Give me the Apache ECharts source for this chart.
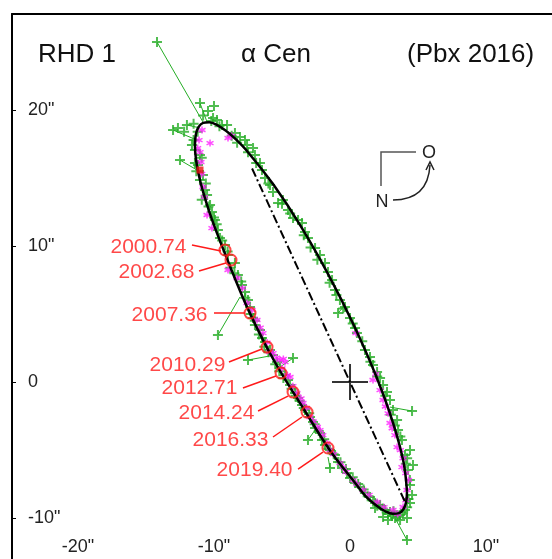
<!DOCTYPE html>
<html>
<head>
<meta charset="utf-8">
<title>RHD 1 alpha Cen</title>
<script src="https://cdn.jsdelivr.net/npm/echarts@6/dist/echarts.min.js"></script>
<style>
    html, body { margin: 0; padding: 0; background: #fff; }
    #orbit { width: 552px; height: 559px; }
</style>
</head>
<body>
<div id="orbit"></div>
<script>
// axes (arcsec)
var xTicks = [-20, -10, 0, 10];
var yTicks = [-10, 0, 10, 20];

// apparent orbit
var orbit = [
    [4.19, -8.04], [4.13, -8.80], [3.93, -9.35], [3.60, -9.64], [3.15, -9.69],
    [2.58, -9.50], [1.91, -9.06], [1.14, -8.39], [0.44, -7.50], [-1.43, -5.09],
    [-3.38, -2.02], [-5.55, 1.51], [-7.45, 5.25], [-9.00, 8.96], [-10.30, 12.38],
    [-11.13, 15.27], [-11.40, 17.45], [-11.33, 18.21], [-11.13, 18.76], [-10.80, 19.05],
    [-10.35, 19.10], [-9.79, 18.91], [-9.12, 18.47], [-8.35, 17.80], [-7.50, 16.90],
    [-5.62, 14.50], [-3.60, 11.43], [-1.59, 7.90], [0.29, 4.16], [1.91, 0.46],
    [3.15, -2.96], [3.93, -5.86], [4.19, -8.04]
];

// line of nodes
var nodes = [[-7.2, 15.7], [4.1, -8.94]];

// visual measurements (green)
var greenObs = [
    [-11.40, 17.06], [-11.03, 16.69], [-11.18, 15.96], [-10.81, 15.22], [-11.03, 14.85],
    [-10.66, 14.12], [-10.51, 13.75], [-10.29, 13.01], [-10.15, 12.50], [-9.93, 11.91],
    [-9.71, 11.18], [-9.56, 10.59], [-9.19, 10.07], [-8.97, 9.34], [-8.46, 8.75],
    [-8.24, 7.87], [-7.94, 7.13], [-7.72, 6.62], [-7.50, 6.03], [-7.35, 5.51],
    [-7.13, 4.71], [-6.99, 4.19], [-6.62, 3.82], [-6.47, 3.24], [-6.25, 2.94],
    [-5.88, 2.35], [-5.66, 1.99], [-5.37, 1.47], [-5.15, 1.03], [-4.78, 0.51],
    [-4.56, 0.15], [-4.41, -0.22], [-4.04, -0.81], [-3.82, -1.18], [-3.53, -1.69],
    [-3.31, -2.06], [-2.94, -2.57], [-2.72, -2.94], [-2.57, -3.38], [-2.21, -3.75],
    [-2.06, -4.26], [-1.84, -4.63], [-1.47, -5.00], [-1.10, -5.37], [-0.88, -5.88],
    [-0.59, -6.32], [-0.22, -6.69], [0.00, -7.06], [0.37, -7.43], [0.74, -7.72],
    [1.10, -8.16], [1.47, -8.46], [1.84, -8.90], [2.21, -9.04], [2.57, -9.41],
    [2.94, -9.56], [3.31, -10.00], [3.68, -9.78], [4.04, -9.41],
    [2.43, -9.93], [2.79, -10.15], [3.09, -9.85], [3.68, -10.15], [4.19, -10.00], [1.84, -9.26],
    [-11.5, 17.8], [-11.2, 18.4], [-10.9, 16.5], [-11.3, 15.5], [-10.6, 14.6],
    [-10.9, 13.4], [-10.4, 12.9], [-10.0, 12.1], [-9.8, 11.6], [-9.4, 10.4],
    [-9.0, 9.6], [-8.8, 8.4], [-8.5, 8.0], [-8.0, 7.4], [-7.7, 6.2],
    [-7.3, 5.0], [-7.0, 4.5], [-6.7, 3.5], [-6.3, 2.6], [-6.0, 2.2],
    [-5.5, 1.3], [-5.2, 0.8], [-4.9, 0.3], [-4.3, -0.5], [-4.0, -1.0],
    [-3.7, -1.4], [-3.4, -1.9], [-3.0, -2.3], [-2.6, -3.1], [-2.3, -3.6],
    [-1.9, -4.2], [-1.6, -4.9], [-1.2, -5.3], [-0.7, -5.9], [-0.3, -6.4],
    [0.2, -7.0], [0.6, -7.5], [1.0, -7.9], [1.3, -8.4], [1.7, -8.7],
    [2.0, -9.1], [2.4, -9.3], [2.8, -9.7], [3.2, -9.5], [3.5, -9.9],
    [3.9, -9.6], [4.2, -9.2], [4.3, -8.6],
    [4.41, -8.90], [4.56, -8.31], [4.41, -7.57], [4.26, -6.47], [4.63, -6.10],
    [4.04, -5.37], [4.41, -5.00], [3.82, -4.26], [3.53, -3.53], [3.46, -2.79],
    [3.16, -2.06], [2.94, -1.32], [2.72, -0.74], [2.43, -0.22], [2.21, 0.29],
    [1.99, 0.74], [1.69, 1.25], [1.47, 1.84], [1.10, 2.35], [0.51, 3.60],
    [0.37, 3.97], [0.00, 4.71], [-0.37, 5.51], [-0.74, 6.03], [-1.10, 6.76],
    [-1.32, 7.50], [-1.62, 8.09], [-1.84, 8.75], [-2.21, 9.34], [-2.57, 9.85],
    [-3.09, 10.59], [-3.31, 11.03], [-3.53, 11.69], [-3.82, 11.91], [-4.19, 12.06],
    [-4.56, 12.65], [-4.93, 13.38], [-5.29, 13.16], [-5.66, 13.97], [-5.88, 14.49],
    [-6.25, 15.00], [-6.47, 15.59], [-6.62, 16.10], [-6.99, 16.69], [-7.13, 17.21],
    [-7.57, 17.43], [-7.72, 17.79], [-8.09, 18.01], [-8.46, 18.31], [-9.04, 18.90],
    [-9.41, 18.90], [-9.78, 19.26], [-10.07, 19.41],
    [4.4, -7.2], [4.1, -6.0], [4.2, -5.6], [3.7, -4.0], [3.3, -3.2],
    [3.0, -2.4], [2.6, -1.0], [2.0, 0.4], [1.5, 1.5], [0.9, 3.0],
    [0.2, 4.3], [-0.5, 5.4], [-1.0, 6.4], [-1.5, 7.3], [-2.4, 9.0],
    [-2.9, 9.9], [-3.4, 10.8], [-4.4, 12.4], [-5.0, 13.1], [-6.0, 14.6],
    [-6.9, 16.1], [-7.5, 16.9], [-8.3, 17.6], [-8.7, 18.1], [-9.6, 18.8],
    [-10.2, 19.2], [-10.8, 19.6], [-11.5, 19.0], [-12.2, 18.4], [-10.0, 20.3],
    [-11.03, 20.51], [-10.44, 19.93], [-13.01, 18.53], [-12.65, 18.68], [-11.99, 18.90],
    [-11.62, 17.43], [-12.50, 16.32], [-11.40, 16.10], [-14.19, 25.00],
    [-9.71, 3.46], [-7.50, 1.62], [-4.19, 1.76], [4.56, -2.13], [4.19, -11.62],
    [-3.09, -4.26], [-1.47, -6.32], [-0.88, 5.07]
];

// residual lines: observed x, y -> orbit x, y
var greenRes = [
    [-14.19, 25.00, -10.81, 19.12],
    [-11.03, 20.51, -10.51, 19.12],
    [-13.01, 18.53, -11.25, 17.79],
    [-11.99, 18.90, -11.03, 18.68],
    [-12.50, 16.32, -11.25, 15.59],
    [-9.71, 3.46, -8.09, 6.25],
    [-7.50, 1.62, -5.51, 1.99],
    [-4.19, 1.76, -5.15, 1.10],
    [4.56, -2.13, 2.94, -1.84],
    [4.19, -11.62, 3.31, -10.00],
    [-3.09, -4.26, -2.57, -3.53],
    [-1.47, -6.32, -1.62, -5.51],
    [-0.88, 5.07, -0.37, 5.66]
];

// interferometric / photographic measurements (magenta)
var magentaObs = [
    [-10.88, 18.53], [-11.10, 17.79], [-11.03, 16.91], [-10.96, 16.18], [-10.81, 14.34],
    [-10.51, 12.28], [-10.15, 11.32], [-8.97, 8.24], [-8.31, 7.65], [-7.57, 5.81],
    [-6.84, 4.56], [-6.40, 3.60], [-5.66, 2.13], [-5.15, 1.62], [-4.78, 1.47],
    [-4.41, 0.37], [-3.90, -0.81], [-3.46, -1.54], [-2.94, -2.57], [-2.21, -3.53],
    [-1.47, -5.00], [-0.74, -5.96], [-0.51, -6.25], [0.22, -7.21], [0.96, -7.94],
    [1.99, -8.82], [3.16, -9.41], [3.90, -9.19], [4.19, -7.94], [3.82, -6.25],
    [3.46, -4.78], [2.94, -3.01], [2.43, -1.32], [2.21, -0.59], [1.69, 0.15],
    [0.44, 3.60], [-8.97, 17.94], [-10.29, 17.57],
    [-7.9, 6.9], [-7.2, 5.3], [-6.6, 4.0], [-6.1, 2.9], [-5.4, 1.8],
    [-5.0, 1.0], [-4.6, 0.5], [-4.2, -0.3], [-3.6, -1.2], [-3.2, -1.9],
    [-2.7, -2.9], [-2.4, -3.3], [-2.0, -3.9], [-1.7, -4.5], [-1.2, -5.3],
    [-0.3, -6.6], [0.5, -7.5], [1.4, -8.3], [2.5, -9.2], [3.5, -9.7],
    [4.1, -8.7], [4.3, -7.2], [4.1, -6.7], [3.9, -5.6], [3.7, -5.0],
    [3.3, -3.9], [3.1, -3.4], [2.8, -2.3], [2.6, -1.8], [1.9, 0.6],
    [-10.9, 15.3], [-11.2, 17.2], [-10.7, 13.6], [-8.7, 18.1], [-5.9, 2.2], [-4.9, 1.7]
];

// first measurement (red square)
var firstObs = [[-11.03, 15.59]];

// marked epochs
var dateNames = ['2000.74', '2002.68', '2007.36', '2010.29', '2012.71', '2014.24', '2016.33', '2019.40'];
var datePos = [
    [-9.19, 9.71], [-8.75, 8.97], [-7.35, 5.07], [-6.10, 2.57],
    [-5.07, 0.66], [-4.19, -0.74], [-3.16, -2.21], [-1.62, -4.85]
];
var labelPos = [
    [-11.99, 9.93], [-11.40, 8.09], [-10.44, 4.93], [-9.12, 1.25],
    [-8.24, -0.44], [-6.99, -2.28], [-5.96, -4.26], [-4.19, -6.47]
];
var leaderLines = [
    [-11.62, 10.07, -9.49, 9.63],
    [-11.10, 8.16, -9.12, 8.75],
    [-10.00, 5.07, -7.72, 5.07],
    [-8.90, 1.47, -6.47, 2.43],
    [-7.87, -0.44, -5.44, 0.44],
    [-6.76, -2.13, -4.56, -1.03],
    [-5.66, -4.04, -3.53, -2.57],
    [-3.82, -6.40, -1.99, -5.15]
];

var FONT = "'Liberation Sans', Arial, sans-serif";
var GREEN = '#25ad25';
var RED = '#ff1a1a';

function toSegments(list) {
    return list.map(function (r) {
        return { coords: [[r[0], r[1]], [r[2], r[3]]] };
    });
}

var myChart = echarts.init(document.getElementById('orbit'));

var option = {
    animation: false,
    backgroundColor: '#fff',
    grid: { left: 12, right: 0, top: 14, bottom: 0 },
    xAxis: [
        {
            type: 'value',
            position: 'bottom',
            min: -24.85,
            max: 14.85,
            axisLine: { show: false, onZero: false },
            axisTick: { show: false },
            splitLine: { show: false },
            axisLabel: {
                inside: true,
                margin: 3,
                customValues: xTicks,
                fontSize: 18,
                fontFamily: FONT,
                color: '#222',
                formatter: function (v) { return v === 0 ? '0' : v + '"'; }
            }
        },
        {
            type: 'value',
            position: 'top',
            min: -24.85,
            max: 14.85,
            axisLine: { show: true, onZero: false, lineStyle: { color: '#000', width: 2 } },
            axisTick: { show: false },
            axisLabel: { show: false },
            splitLine: { show: false }
        }
    ],
    yAxis: {
        type: 'value',
        position: 'left',
        min: -13.01,
        max: 27.06,
        axisLine: { show: true, onZero: false, lineStyle: { color: '#000', width: 2 } },
        axisTick: {
            show: true,
            inside: true,
            length: 4,
            customValues: yTicks,
            lineStyle: { color: '#000', width: 1 }
        },
        splitLine: { show: false },
        axisLabel: {
            inside: true,
            margin: 16,
            customValues: yTicks,
            fontSize: 18,
            fontFamily: FONT,
            color: '#222',
            formatter: function (v) { return v === 0 ? '0' : v + '"'; }
        }
    },
    graphic: [
        { type: 'text', left: 38, top: 42, style: { text: 'RHD 1', font: '26px ' + FONT, fill: '#111' } },
        { type: 'text', left: 241, top: 42, style: { text: '\u03b1 Cen', font: '26px ' + FONT, fill: '#111' } },
        { type: 'text', left: 407, top: 42, style: { text: '(Pbx 2016)', font: '26px ' + FONT, fill: '#111' } },
        // orientation: N down, O (east) right
        { type: 'polyline', shape: { points: [[381, 186], [381, 152], [416, 152]] }, style: { stroke: '#555', lineWidth: 1.5, fill: null } },
        { type: 'text', x: 429, y: 153, style: { text: 'O', font: '18px ' + FONT, fill: '#222', align: 'center', verticalAlign: 'middle' } },
        { type: 'text', x: 382, y: 202, style: { text: 'N', font: '18px ' + FONT, fill: '#222', align: 'center', verticalAlign: 'middle' } },
        { type: 'bezierCurve', shape: { x1: 393, y1: 200, cpx1: 428, cpy1: 200, x2: 430, y2: 165 }, style: { stroke: '#222', lineWidth: 1.5, fill: null } },
        { type: 'polyline', shape: { points: [[426, 170], [430, 162], [434, 170]] }, style: { stroke: '#222', lineWidth: 1.5, fill: null } }
    ],
    series: [
        {
            name: 'residuals',
            type: 'lines',
            coordinateSystem: 'cartesian2d',
            z: 2,
            lineStyle: { color: GREEN, width: 1, opacity: 1 },
            data: toSegments(greenRes)
        },
        {
            name: 'visual',
            type: 'scatter',
            z: 3,
            symbol: 'path://M0,5L10,5M5,0L5,10',
            symbolSize: 10,
            itemStyle: { color: 'none', borderColor: GREEN, borderWidth: 2 },
            data: greenObs
        },
        {
            name: 'interferometric',
            type: 'scatter',
            z: 4,
            symbol: 'path://M5,0L5,10M0.7,2.5L9.3,7.5M0.7,7.5L9.3,2.5',
            symbolSize: 7,
            itemStyle: { color: 'none', borderColor: '#ff1fff', borderWidth: 1.5 },
            data: magentaObs
        },
        {
            name: 'nodes',
            type: 'line',
            z: 5,
            showSymbol: false,
            symbol: 'none',
            lineStyle: { color: '#000', width: 2, type: [9, 3, 2, 3] },
            data: nodes
        },
        {
            name: 'orbit',
            type: 'line',
            z: 6,
            smooth: 0.35,
            showSymbol: false,
            symbol: 'none',
            lineStyle: { color: '#000', width: 2.5 },
            data: orbit
        },
        {
            name: 'first',
            type: 'scatter',
            z: 7,
            symbol: 'rect',
            symbolSize: 7,
            itemStyle: { color: '#e81010' },
            data: firstObs
        },
        {
            name: 'primary',
            type: 'scatter',
            z: 7,
            symbol: 'path://M0,18L36,18M18,0L18,36',
            symbolSize: 36,
            itemStyle: { color: 'none', borderColor: '#000', borderWidth: 2 },
            data: [[0, 0]]
        },
        {
            name: 'leaders',
            type: 'lines',
            coordinateSystem: 'cartesian2d',
            z: 8,
            lineStyle: { color: RED, width: 1.5, opacity: 1 },
            data: toSegments(leaderLines)
        },
        {
            name: 'epochs',
            type: 'scatter',
            z: 9,
            symbol: 'circle',
            symbolSize: 11,
            itemStyle: { color: 'rgba(0,0,0,0)', borderColor: RED, borderWidth: 2 },
            data: datePos
        },
        {
            name: 'epochLabels',
            type: 'scatter',
            z: 9,
            symbolSize: 1,
            itemStyle: { color: 'rgba(0,0,0,0)' },
            label: {
                show: true,
                position: 'left',
                distance: 0,
                fontSize: 21,
                fontFamily: FONT,
                color: RED,
                formatter: function (p) { return p.name; }
            },
            data: labelPos.map(function (p, i) {
                return { name: dateNames[i], value: p };
            })
        }
    ]
};
myChart.setOption(option);
</script>
</body>
</html>
